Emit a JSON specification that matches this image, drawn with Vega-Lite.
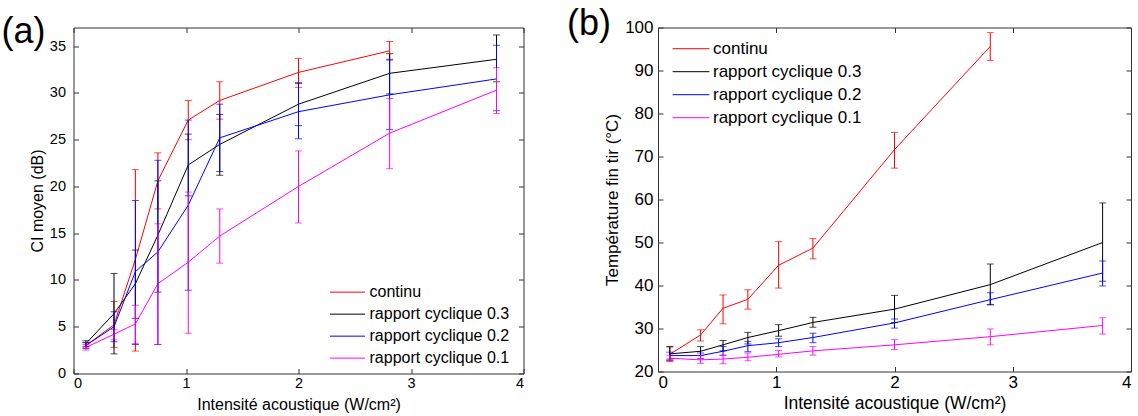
{
  "$schema": "https://vega.github.io/schema/vega-lite/v6.json",
  "padding": {"left": 1.5, "top": 5.5, "right": 5, "bottom": 2},
  "spacing": 42.5,
  "config": {
    "font": "Liberation Sans",
    "view": {"stroke": null},
    "axis": {"domainColor": "#333333", "tickColor": "#333333", "labelColor": "#000000", "titleColor": "#000000", "grid": false, "labelFont": "Liberation Sans", "titleFont": "Liberation Sans", "titleFontWeight": "normal"},
    "legend": {"labelFont": "Liberation Sans"}
  },
  "datasets": {
    "a": [
      {"s": "continu", "x": 0.11, "y": 3.0, "lo": 2.7, "hi": 3.3},
      {"s": "continu", "x": 0.36, "y": 5.2, "lo": 2.8, "hi": 7.7},
      {"s": "continu", "x": 0.55, "y": 12.2, "lo": 2.4, "hi": 21.8},
      {"s": "continu", "x": 0.75, "y": 20.6, "lo": 17.6, "hi": 23.6},
      {"s": "continu", "x": 1.02, "y": 27.1, "lo": 25.0, "hi": 29.2},
      {"s": "continu", "x": 1.3, "y": 29.2, "lo": 27.2, "hi": 31.2},
      {"s": "continu", "x": 2.0, "y": 32.2, "lo": 30.6, "hi": 33.7},
      {"s": "continu", "x": 2.81, "y": 34.5, "lo": 33.5, "hi": 35.5},
      {"s": "rapport cyclique 0.3", "x": 0.11, "y": 3.2, "lo": 2.9, "hi": 3.5},
      {"s": "rapport cyclique 0.3", "x": 0.36, "y": 6.4, "lo": 2.1, "hi": 10.7},
      {"s": "rapport cyclique 0.3", "x": 0.55, "y": 9.6, "lo": 5.9, "hi": 13.2},
      {"s": "rapport cyclique 0.3", "x": 0.75, "y": 14.8, "lo": 8.7, "hi": 20.6},
      {"s": "rapport cyclique 0.3", "x": 1.02, "y": 22.3, "lo": 19.0, "hi": 25.6},
      {"s": "rapport cyclique 0.3", "x": 1.3, "y": 24.5, "lo": 21.2, "hi": 27.7},
      {"s": "rapport cyclique 0.3", "x": 2.0, "y": 28.8, "lo": 26.5, "hi": 31.1},
      {"s": "rapport cyclique 0.3", "x": 2.81, "y": 32.1, "lo": 29.9, "hi": 34.2},
      {"s": "rapport cyclique 0.3", "x": 3.76, "y": 33.6, "lo": 31.2, "hi": 36.2},
      {"s": "rapport cyclique 0.2", "x": 0.11, "y": 3.0, "lo": 2.7, "hi": 3.3},
      {"s": "rapport cyclique 0.2", "x": 0.36, "y": 5.0, "lo": 3.4, "hi": 6.6},
      {"s": "rapport cyclique 0.2", "x": 0.55, "y": 10.9, "lo": 3.1, "hi": 18.5},
      {"s": "rapport cyclique 0.2", "x": 0.75, "y": 13.0, "lo": 3.1, "hi": 22.8},
      {"s": "rapport cyclique 0.2", "x": 1.02, "y": 18.0, "lo": 8.9, "hi": 27.1},
      {"s": "rapport cyclique 0.2", "x": 1.3, "y": 25.2, "lo": 21.6, "hi": 28.8},
      {"s": "rapport cyclique 0.2", "x": 2.0, "y": 28.0, "lo": 25.1, "hi": 31.0},
      {"s": "rapport cyclique 0.2", "x": 2.81, "y": 29.8, "lo": 26.1, "hi": 33.6},
      {"s": "rapport cyclique 0.2", "x": 3.76, "y": 31.5, "lo": 28.1, "hi": 35.1},
      {"s": "rapport cyclique 0.1", "x": 0.11, "y": 2.8, "lo": 2.5, "hi": 3.1},
      {"s": "rapport cyclique 0.1", "x": 0.36, "y": 4.2, "lo": 3.6, "hi": 4.7},
      {"s": "rapport cyclique 0.1", "x": 0.55, "y": 5.3, "lo": 3.2, "hi": 7.3},
      {"s": "rapport cyclique 0.1", "x": 0.75, "y": 9.6, "lo": 3.1, "hi": 16.0},
      {"s": "rapport cyclique 0.1", "x": 1.02, "y": 11.9, "lo": 4.3, "hi": 19.4},
      {"s": "rapport cyclique 0.1", "x": 1.3, "y": 14.7, "lo": 11.8, "hi": 17.6},
      {"s": "rapport cyclique 0.1", "x": 2.0, "y": 20.0, "lo": 16.1, "hi": 23.8},
      {"s": "rapport cyclique 0.1", "x": 2.81, "y": 25.7, "lo": 21.9, "hi": 29.4},
      {"s": "rapport cyclique 0.1", "x": 3.76, "y": 30.3, "lo": 27.8, "hi": 32.7}
    ],
    "b": [
      {"s": "continu", "x": 0.1, "y": 24.0, "lo": 22.3, "hi": 25.7},
      {"s": "continu", "x": 0.36, "y": 28.5, "lo": 27.1, "hi": 29.7},
      {"s": "continu", "x": 0.55, "y": 34.7, "lo": 31.1, "hi": 37.8},
      {"s": "continu", "x": 0.76, "y": 36.8, "lo": 34.5, "hi": 39.0},
      {"s": "continu", "x": 1.02, "y": 44.7, "lo": 39.4, "hi": 50.2},
      {"s": "continu", "x": 1.31, "y": 48.7, "lo": 46.2, "hi": 50.9},
      {"s": "continu", "x": 2.0, "y": 71.6, "lo": 67.3, "hi": 75.6},
      {"s": "continu", "x": 2.81, "y": 95.6, "lo": 92.3, "hi": 98.8},
      {"s": "rapport cyclique 0.3", "x": 0.1, "y": 24.1, "lo": 22.6, "hi": 25.8},
      {"s": "rapport cyclique 0.3", "x": 0.36, "y": 24.7, "lo": 23.7, "hi": 25.8},
      {"s": "rapport cyclique 0.3", "x": 0.55, "y": 26.2, "lo": 24.8, "hi": 27.2},
      {"s": "rapport cyclique 0.3", "x": 0.76, "y": 27.9, "lo": 26.4, "hi": 29.1},
      {"s": "rapport cyclique 0.3", "x": 1.02, "y": 29.5, "lo": 28.2, "hi": 30.9},
      {"s": "rapport cyclique 0.3", "x": 1.31, "y": 31.4, "lo": 30.3, "hi": 32.6},
      {"s": "rapport cyclique 0.3", "x": 2.0, "y": 34.5, "lo": 31.4, "hi": 37.7},
      {"s": "rapport cyclique 0.3", "x": 2.81, "y": 40.2, "lo": 35.5, "hi": 45.0},
      {"s": "rapport cyclique 0.3", "x": 3.76, "y": 50.0, "lo": 41.0, "hi": 59.2},
      {"s": "rapport cyclique 0.2", "x": 0.1, "y": 23.7, "lo": 22.9, "hi": 24.5},
      {"s": "rapport cyclique 0.2", "x": 0.36, "y": 23.7, "lo": 23.0, "hi": 24.3},
      {"s": "rapport cyclique 0.2", "x": 0.55, "y": 24.7, "lo": 23.8, "hi": 25.8},
      {"s": "rapport cyclique 0.2", "x": 0.76, "y": 26.0, "lo": 24.6, "hi": 27.0},
      {"s": "rapport cyclique 0.2", "x": 1.02, "y": 26.7, "lo": 25.8, "hi": 27.6},
      {"s": "rapport cyclique 0.2", "x": 1.31, "y": 27.9, "lo": 26.7, "hi": 28.9},
      {"s": "rapport cyclique 0.2", "x": 2.0, "y": 31.3, "lo": 30.1, "hi": 32.2},
      {"s": "rapport cyclique 0.2", "x": 2.81, "y": 36.7, "lo": 35.6, "hi": 38.3},
      {"s": "rapport cyclique 0.2", "x": 3.76, "y": 42.9, "lo": 39.9, "hi": 45.7},
      {"s": "rapport cyclique 0.1", "x": 0.1, "y": 23.1, "lo": 22.5, "hi": 23.8},
      {"s": "rapport cyclique 0.1", "x": 0.36, "y": 22.7, "lo": 21.9, "hi": 23.7},
      {"s": "rapport cyclique 0.1", "x": 0.55, "y": 22.9, "lo": 21.8, "hi": 23.7},
      {"s": "rapport cyclique 0.1", "x": 0.76, "y": 23.3, "lo": 22.5, "hi": 24.3},
      {"s": "rapport cyclique 0.1", "x": 1.02, "y": 24.0, "lo": 23.4, "hi": 24.9},
      {"s": "rapport cyclique 0.1", "x": 1.31, "y": 24.8, "lo": 23.8, "hi": 25.8},
      {"s": "rapport cyclique 0.1", "x": 2.0, "y": 26.2, "lo": 25.1, "hi": 27.4},
      {"s": "rapport cyclique 0.1", "x": 2.81, "y": 28.1, "lo": 26.2, "hi": 29.9},
      {"s": "rapport cyclique 0.1", "x": 3.76, "y": 30.7, "lo": 28.7, "hi": 32.5}
    ]
  },
  "resolve": {"scale": {"color": "independent"}, "legend": {"color": "independent"}},
  "hconcat": [
    {
      "width": 450,
      "height": 346,
      "data": {"name": "a"},
      "title": {"text": "(a)", "fontSize": 36, "fontWeight": "normal", "anchor": "start", "frame": "group", "dx": -72, "dy": 24, "offset": 0, "font": "Liberation Sans"},
      "layer": [
        {
          "mark": {"type": "line", "strokeWidth": 1},
          "encoding": {
            "x": {"field": "x", "type": "quantitative", "scale": {"domain": [0, 4], "nice": false}, "axis": {"values": [0, 1, 2, 3, 4], "tickSize": -5, "labelPadding": 8, "labelFontSize": 14.5, "title": "Intensité acoustique (W/cm²)", "titleFontSize": 16, "titlePadding": 6}},
            "y": {"field": "y", "type": "quantitative", "scale": {"domain": [0, 37], "nice": false}, "axis": {"values": [0, 5, 10, 15, 20, 25, 30, 35], "tickSize": -5, "labelPadding": 13, "labelFontSize": 14.5, "title": "CI moyen (dB)", "titleFontSize": 16, "titlePadding": 4}},
            "color": {"field": "s", "type": "nominal", "scale": {"domain": ["continu", "rapport cyclique 0.3", "rapport cyclique 0.2", "rapport cyclique 0.1"], "range": ["#ff0000", "#000000", "#0000ff", "#ff00ff"]},
              "legend": {"title": null, "orient": "none", "legendX": 256, "legendY": 254, "symbolType": "stroke", "symbolSize": 1225, "symbolStrokeWidth": 1, "labelFontSize": 16, "labelOffset": 4, "rowPadding": 0, "clipHeight": 21.3, "padding": 0}}
          }
        },
        {
          "mark": {"type": "errorbar", "ticks": {"size": 7}, "rule": {"strokeWidth": 1}},
          "encoding": {
            "x": {"field": "x", "type": "quantitative", "axis": null},
            "y": {"field": "lo", "type": "quantitative", "axis": null},
            "y2": {"field": "hi"},
            "color": {"field": "s", "type": "nominal", "legend": null}
          }
        },
        {
          "mark": {"type": "point", "opacity": 0},
          "encoding": {
            "x": {"field": "x", "type": "quantitative", "axis": {"orient": "top", "values": [0, 1, 2, 3, 4], "tickSize": -5, "labels": false, "title": null}},
            "y": {"field": "y", "type": "quantitative", "axis": {"orient": "right", "values": [0, 5, 10, 15, 20, 25, 30, 35], "tickSize": -5, "labels": false, "title": null}}
          }
        }
      ],
      "resolve": {"axis": {"x": "independent", "y": "independent"}}
    },
    {
      "width": 473,
      "height": 344,
      "data": {"name": "b"},
      "title": {"text": "(b)", "fontSize": 36, "fontWeight": "normal", "anchor": "start", "frame": "group", "dx": -91, "dy": 24, "offset": 0, "font": "Liberation Sans"},
      "layer": [
        {
          "mark": {"type": "line", "strokeWidth": 1},
          "encoding": {
            "x": {"field": "x", "type": "quantitative", "scale": {"domain": [0, 4], "nice": false}, "axis": {"values": [0, 1, 2, 3, 4], "tickSize": -5, "labelPadding": 8, "labelFontSize": 17, "title": "Intensité acoustique (W/cm²)", "titleFontSize": 17.5, "titlePadding": 4}},
            "y": {"field": "y", "type": "quantitative", "scale": {"domain": [20, 100], "nice": false}, "axis": {"values": [20, 30, 40, 50, 60, 70, 80, 90, 100], "tickSize": -5, "labelPadding": 10, "labelFontSize": 17, "title": "Température fin tir (°C)", "titleFontSize": 17, "titlePadding": 3}},
            "color": {"field": "s", "type": "nominal", "scale": {"domain": ["continu", "rapport cyclique 0.3", "rapport cyclique 0.2", "rapport cyclique 0.1"], "range": ["#ff0000", "#000000", "#0000ff", "#ff00ff"]},
              "legend": {"title": null, "orient": "none", "legendX": 14, "legendY": 10, "symbolType": "stroke", "symbolSize": 1350, "symbolStrokeWidth": 1, "labelFontSize": 17, "labelOffset": 3, "rowPadding": 0, "clipHeight": 22.4, "padding": 0}}
          }
        },
        {
          "mark": {"type": "errorbar", "ticks": {"size": 7}, "rule": {"strokeWidth": 1}},
          "encoding": {
            "x": {"field": "x", "type": "quantitative", "axis": null},
            "y": {"field": "lo", "type": "quantitative", "axis": null},
            "y2": {"field": "hi"},
            "color": {"field": "s", "type": "nominal", "legend": null}
          }
        },
        {
          "mark": {"type": "point", "opacity": 0},
          "encoding": {
            "x": {"field": "x", "type": "quantitative", "axis": {"orient": "top", "values": [0, 1, 2, 3, 4], "tickSize": -5, "labels": false, "title": null}},
            "y": {"field": "y", "type": "quantitative", "axis": {"orient": "right", "values": [20, 30, 40, 50, 60, 70, 80, 90, 100], "tickSize": -5, "labels": false, "title": null}}
          }
        }
      ],
      "resolve": {"axis": {"x": "independent", "y": "independent"}}
    }
  ]
}
